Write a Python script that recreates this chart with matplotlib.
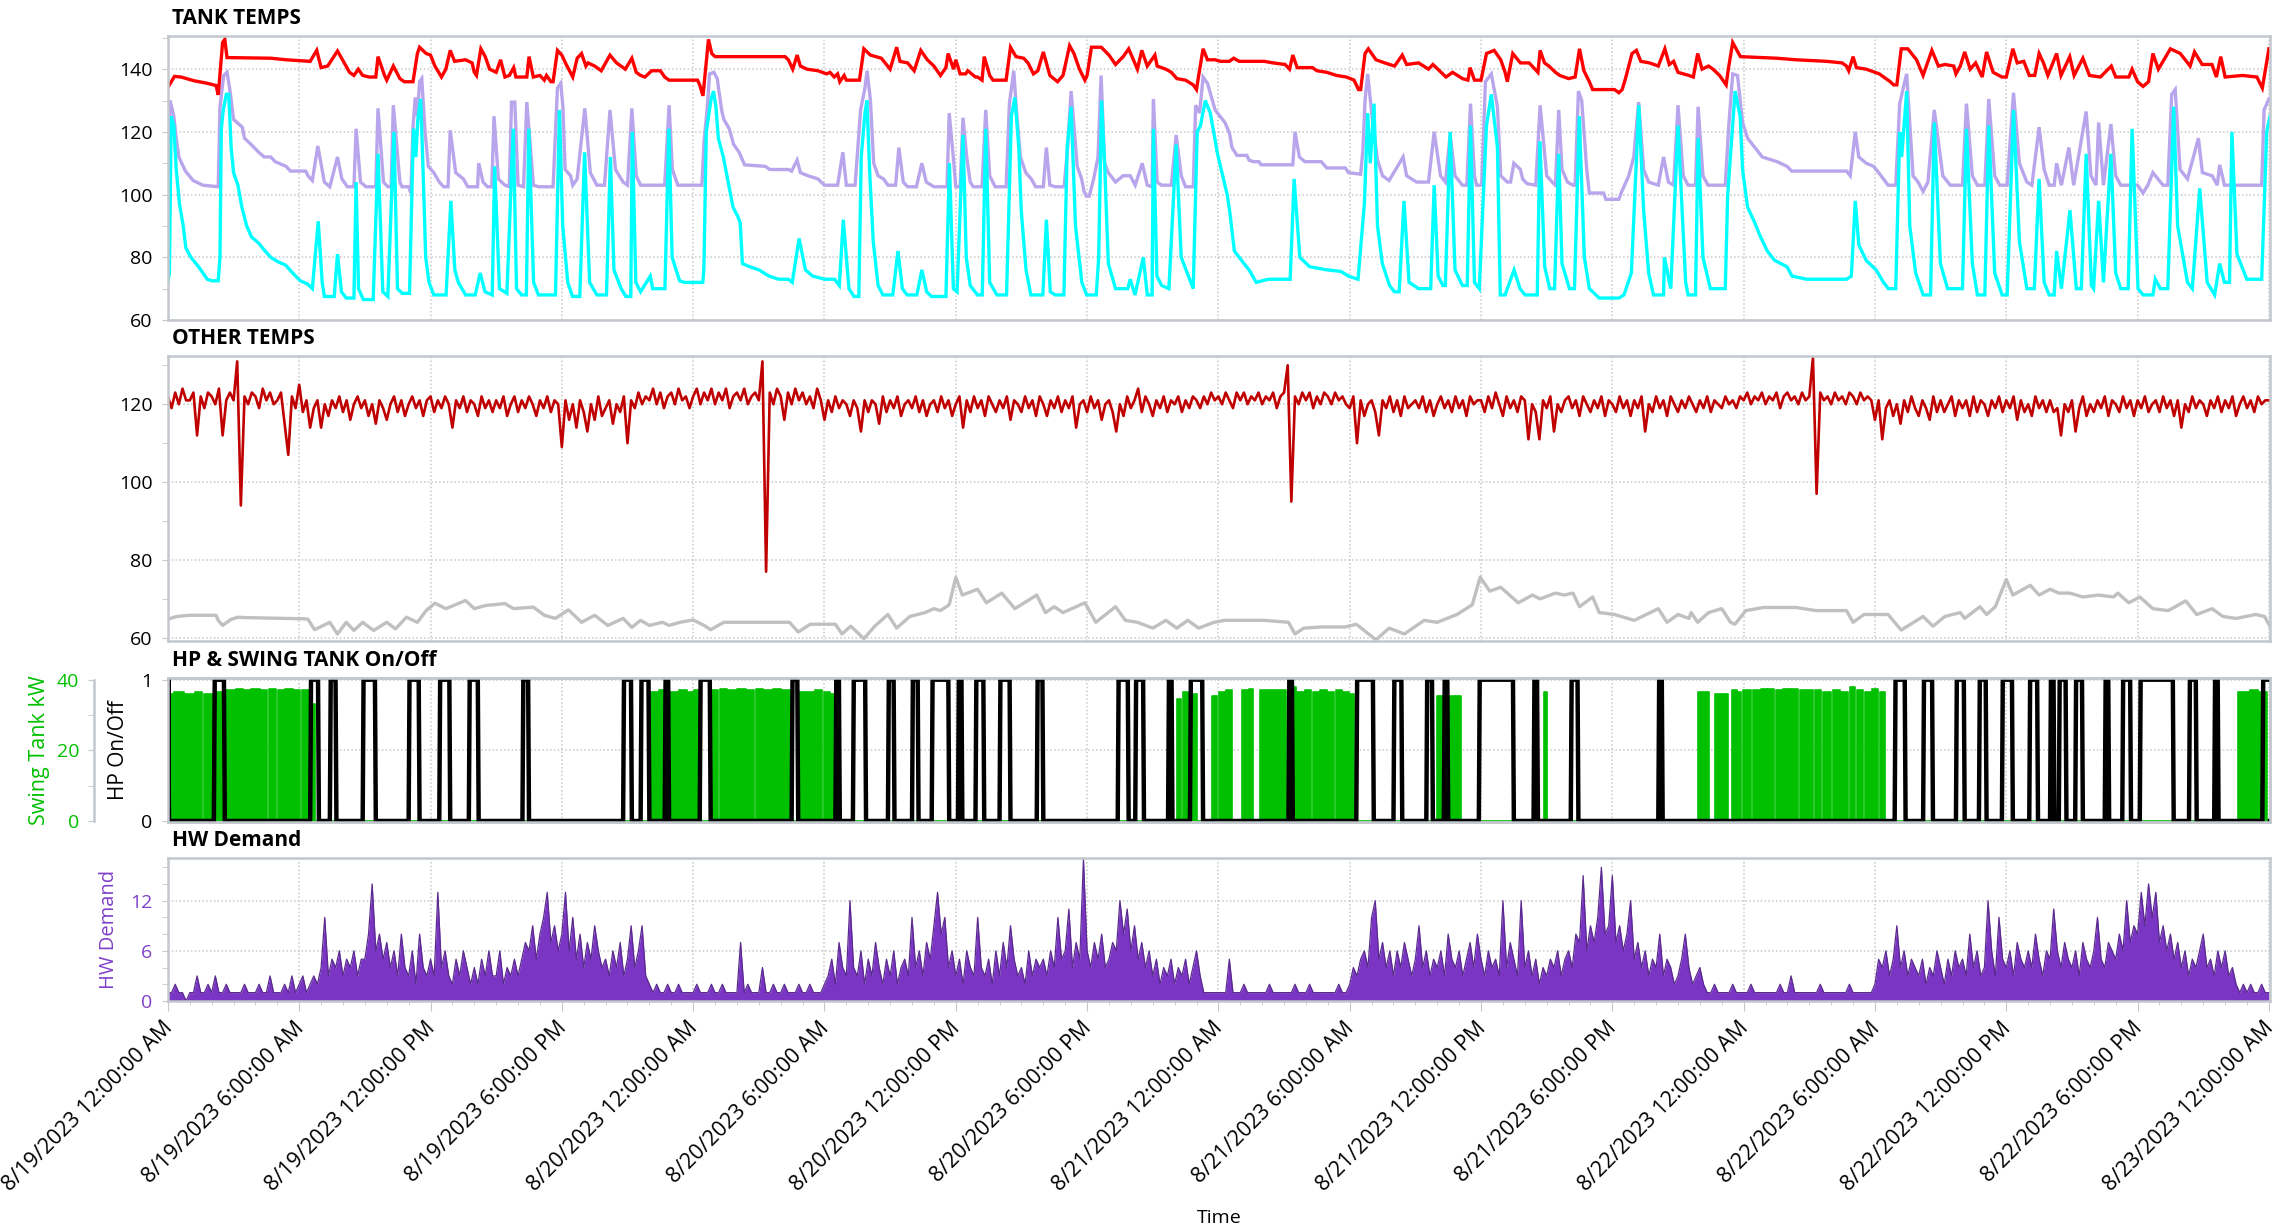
import datetime as dt

import matplotlib
matplotlib.use("Agg")
import matplotlib.pyplot as plt
import numpy as np
from matplotlib.ticker import MultipleLocator, FixedLocator
from matplotlib.transforms import ScaledTranslation

plt.rcParams["font.family"] = ["Open Sans", "DejaVu Sans"]

START = dt.datetime(2023, 8, 19)
X_END = 96.05  # hours after START

# ---- TANK TEMPS: (hours after start, degF) ----
TANK_TOP = [
    (0, 134.2), (0.3, 137.7), (0.6, 137.5), (1.2, 136.3), (1.8, 135.5), (2.2, 134.8), (2.3, 131.8),
    (2.5, 148.5), (2.6, 149.5), (2.7, 143.7), (4.7, 143.5), (5.4, 143), (6.5, 142.5), (6.8, 146),
    (7.0, 140.5), (7.3, 141), (7.75, 145.8), (8.3, 139), (8.5, 138), (8.7, 140), (8.9, 138),
    (9.2, 137.5), (9.5, 137.5), (9.6, 144), (9.9, 138), (10.0, 136.5), (10.3, 141), (10.6, 137),
    (10.8, 136), (11.2, 136), (11.4, 145), (11.5, 147), (11.8, 145), (12.0, 144.5), (12.2, 141),
    (12.5, 137.5), (12.7, 140), (12.9, 146), (13.1, 142.5), (13.6, 143), (13.9, 142), (14.0, 139),
    (14.1, 138), (14.3, 146.5), (14.5, 144), (14.7, 140), (15.0, 139), (15.2, 143), (15.4, 137.5),
    (15.6, 138), (15.8, 140.5), (15.9, 137.5), (16.4, 137.5), (16.5, 144), (16.7, 137.5), (17.0, 138),
    (17.2, 136.5), (17.3, 138), (17.5, 136), (17.6, 136), (17.8, 146), (18.0, 144.5), (18.2, 141.5),
    (18.5, 137.5), (18.7, 143.5), (18.9, 145), (19.1, 141), (19.2, 142), (19.5, 141), (19.8, 139.5),
    (20.2, 144.5), (20.5, 142), (20.9, 140), (21.2, 143.5), (21.4, 139), (21.6, 138), (21.8, 137.5),
    (22.1, 139.5), (22.5, 139.5), (22.7, 137.5), (22.9, 136.5), (24.2, 136.5), (24.3, 135),
    (24.45, 131.5), (24.7, 149.5), (24.85, 145), (25.0, 144), (28.2, 144), (28.35, 143), (28.55, 140),
    (28.75, 144.5), (28.9, 141), (29.2, 140), (29.7, 139.5), (30.1, 138.5), (30.25, 139), (30.45, 137.5),
    (30.6, 138.5), (30.7, 136), (30.9, 138), (31.0, 136.5), (31.6, 136.5), (31.8, 146.5), (32.1, 144.5),
    (32.6, 143.5), (33.0, 140), (33.3, 147), (33.45, 142.5), (33.8, 142), (34.1, 139.5), (34.4, 146),
    (34.7, 143), (35.0, 141), (35.3, 138), (35.55, 140.5), (35.65, 145), (35.9, 140), (36.0, 143),
    (36.2, 138.5), (36.45, 138.5), (36.55, 139.5), (36.9, 137.5), (37.0, 137.5), (37.2, 136.5),
    (37.3, 144), (37.55, 138), (37.7, 136.5), (38.3, 136.5), (38.5, 147), (38.75, 144), (39.1, 143.5),
    (39.3, 142), (39.55, 138.5), (39.75, 139.5), (40.0, 145.5), (40.3, 138), (40.65, 136), (40.9, 138),
    (41.2, 147.5), (41.4, 145), (41.65, 140), (41.9, 136.5), (42.0, 138), (42.2, 147), (42.65, 147),
    (43.0, 144.5), (43.3, 141.5), (43.65, 144), (43.9, 146.5), (44.3, 140), (44.5, 146), (44.75, 141),
    (45.1, 144.5), (45.2, 141), (45.6, 140), (45.85, 139), (46.1, 137), (46.5, 136.5), (46.85, 135),
    (47.0, 133.5), (47.1, 138), (47.3, 146.5), (47.5, 143), (47.85, 143), (48.1, 142.5), (48.5, 142.5),
    (48.7, 143.5), (48.95, 142.5), (50.1, 142.5), (50.5, 142), (51.05, 141.5), (51.25, 140),
    (51.4, 144.5), (51.6, 140.5), (52.3, 140.5), (52.5, 139.5), (52.95, 139), (53.4, 138),
    (53.85, 137.5), (54.2, 136.5), (54.4, 133.5), (54.5, 133.5), (54.7, 145), (54.85, 146.5),
    (55.2, 143), (55.6, 142), (56.05, 141), (56.4, 144.5), (56.6, 141.5), (57.15, 142), (57.6, 140),
    (57.8, 141.5), (58.4, 137.5), (58.7, 139), (59.15, 137), (59.4, 136.5), (59.5, 140.5), (59.7, 136.5),
    (60.0, 136.5), (60.25, 145), (60.6, 146), (60.9, 143), (61.1, 139), (61.2, 136), (61.45, 145),
    (61.8, 142), (62.2, 142), (62.6, 139), (62.7, 146), (62.9, 142), (63.1, 141), (63.4, 139),
    (63.6, 138), (64.0, 137), (64.3, 137.5), (64.5, 146.5), (64.7, 139.5), (64.95, 136), (65.1, 133.5),
    (66.1, 133.5), (66.3, 132.5), (66.45, 133.5), (66.6, 137), (66.9, 145), (67.1, 146), (67.3, 142.5),
    (67.7, 142), (68.1, 141), (68.4, 146.5), (68.6, 141.5), (68.8, 142.5), (69.0, 139), (69.5, 138),
    (69.7, 137.5), (69.9, 145), (70.1, 140), (70.4, 141), (70.6, 140), (70.9, 138), (71.2, 135),
    (71.3, 140), (71.5, 148.5), (71.85, 144), (73.5, 143.5), (74.4, 143), (75.8, 142.5), (76.5, 142),
    (76.7, 141), (76.8, 139.5), (77.0, 144), (77.15, 140.5), (77.6, 140), (78.2, 138.5), (78.5, 137),
    (78.7, 136), (78.85, 135), (79.0, 135), (79.2, 146.5), (79.5, 146.5), (79.9, 143), (80.2, 138),
    (80.6, 146), (80.9, 141), (81.2, 141.5), (81.6, 141), (81.7, 138.5), (81.9, 141), (82.1, 145.5),
    (82.35, 140), (82.6, 142), (82.9, 137.5), (83.1, 145.5), (83.4, 139), (83.8, 137.5), (84.0, 137.5),
    (84.3, 146.5), (84.5, 142), (84.8, 142.5), (85.05, 138), (85.3, 138), (85.5, 145), (85.7, 142),
    (85.9, 138), (86.3, 145), (86.5, 138), (86.9, 144), (87.1, 138), (87.5, 143.5), (87.8, 138),
    (88.3, 137.5), (88.8, 141), (89.0, 137.5), (89.6, 137.5), (89.75, 140), (90.0, 136), (90.25, 134.5),
    (90.5, 136), (90.7, 145), (90.95, 140), (91.5, 146.5), (91.95, 145), (92.4, 141), (92.6, 145.5),
    (92.95, 141.5), (93.4, 141.5), (93.6, 137.5), (93.8, 144), (94.0, 137.5), (94.8, 138),
    (95.45, 137.5), (95.7, 134), (96.0, 146.5),
]

TANK_MID = [
    (0, 102.5), (0.1, 130), (0.27, 125), (0.38, 118), (0.5, 112), (0.8, 107.5), (1.15, 104.5),
    (1.6, 103), (2.3, 102.5), (2.38, 128), (2.55, 138), (2.7, 139), (2.82, 134), (3.0, 124),
    (3.4, 121.5), (3.5, 118), (3.8, 116), (4.15, 113.5), (4.4, 112), (4.7, 112), (4.9, 110.5),
    (5.4, 109), (5.6, 107.5), (6.3, 107.5), (6.4, 106), (6.6, 104.5), (6.85, 115.5), (7.15, 104),
    (7.4, 102.5), (7.75, 112), (7.95, 105), (8.2, 102.5), (8.5, 102.5), (8.6, 121), (8.8, 104),
    (9.05, 102.5), (9.5, 102.5), (9.6, 127.5), (9.85, 104), (10.05, 102.5), (10.2, 102.5),
    (10.3, 128.5), (10.6, 104), (10.7, 102.5), (11.0, 102.5), (11.1, 100.5), (11.2, 121.5),
    (11.3, 131), (11.4, 125), (11.5, 136), (11.6, 137), (11.75, 120), (11.9, 109), (12.15, 107),
    (12.4, 104), (12.6, 102.5), (12.8, 102.5), (12.9, 120.5), (13.15, 107), (13.5, 105), (13.7, 102.5),
    (14.15, 102.5), (14.2, 110), (14.4, 104), (14.6, 102.5), (14.8, 102.5), (14.9, 125), (15.1, 105),
    (15.4, 103), (15.6, 102.5), (15.7, 129.5), (15.85, 129.5), (16.0, 103), (16.25, 102.5),
    (16.4, 129.5), (16.7, 103), (16.95, 102.5), (17.6, 102.5), (17.8, 134), (17.95, 135.5),
    (18.05, 128), (18.15, 108), (18.4, 106), (18.5, 103), (18.7, 105), (19.05, 127.5), (19.3, 107),
    (19.6, 103), (19.95, 103), (20.2, 127), (20.45, 108), (20.8, 104), (21.0, 103), (21.2, 127.5),
    (21.4, 106), (21.6, 103), (22.7, 103), (22.9, 128.5), (23.05, 108), (23.3, 103), (24.4, 103),
    (24.5, 117), (24.65, 128), (24.75, 138.5), (24.95, 139), (25.1, 137), (25.3, 127), (25.4, 124),
    (25.65, 121), (25.85, 116), (26.1, 113.5), (26.35, 109.5), (27.3, 109), (27.5, 108), (28.35, 108),
    (28.5, 107.5), (28.75, 111), (28.9, 107), (29.25, 106), (29.7, 105), (30.0, 103), (30.6, 103),
    (30.84, 113.5), (31.0, 103), (31.4, 103), (31.65, 127), (31.85, 134), (31.95, 139.5), (32.1, 130),
    (32.25, 110), (32.45, 106), (32.7, 105), (32.9, 103), (33.25, 103), (33.4, 115), (33.6, 104),
    (33.8, 102.5), (34.2, 102.5), (34.45, 110), (34.65, 104), (35.0, 102.5), (35.6, 102.5),
    (35.7, 126), (35.9, 111), (36.0, 102.5), (36.2, 102.5), (36.33, 124.5), (36.5, 112), (36.66, 104),
    (36.8, 102.5), (37.2, 102.5), (37.37, 127), (37.55, 106), (37.8, 102.5), (38.3, 102.5),
    (38.45, 129), (38.65, 139.5), (38.75, 129), (38.95, 112), (39.2, 107), (39.45, 105), (39.65, 102.5),
    (40.0, 102.5), (40.14, 115), (40.3, 103), (40.55, 102.5), (40.95, 102.5), (41.1, 114), (41.27, 133),
    (41.55, 109), (41.75, 105), (41.86, 101), (41.97, 99.5), (42.1, 99.5), (42.3, 105), (42.5, 112),
    (42.64, 138), (42.8, 110), (42.97, 107), (43.3, 104), (43.64, 106), (43.97, 106), (44.2, 103),
    (44.52, 110), (44.75, 103), (44.97, 102.5), (45.03, 130.5), (45.2, 104), (45.4, 103), (45.85, 103),
    (46.07, 119), (46.3, 106), (46.5, 102.5), (46.85, 102.5), (46.96, 128.5), (47.14, 126), (47.3, 137.5),
    (47.5, 135.5), (47.85, 127), (48.07, 125), (48.3, 123), (48.51, 119.5), (48.62, 115), (48.85, 112.5),
    (49.3, 112.5), (49.4, 111), (49.6, 110.5), (49.85, 110.5), (49.95, 109.5), (51.4, 109.5),
    (51.5, 120), (51.7, 112), (51.95, 110.5), (52.7, 110.5), (52.95, 108.5), (53.8, 108.5), (53.95, 107),
    (54.5, 106.5), (54.6, 114), (54.7, 130), (54.82, 138.5), (55.05, 123), (55.27, 111), (55.5, 106),
    (55.8, 104.5), (56.44, 112), (56.6, 106), (57.05, 104), (57.6, 104), (57.86, 120), (58.15, 106),
    (58.37, 104), (58.59, 119), (58.81, 106), (59.15, 103), (59.35, 103), (59.52, 129), (59.7, 106),
    (59.8, 103), (60.03, 103), (60.2, 136), (60.47, 138.5), (60.75, 128), (60.9, 106), (61.2, 104),
    (61.35, 104), (61.5, 110), (61.8, 108), (61.9, 105), (62.1, 103.5), (62.5, 103), (62.7, 128.5),
    (63.0, 106), (63.25, 104), (63.4, 103), (63.55, 127), (63.7, 108), (63.95, 104), (64.2, 103),
    (64.3, 103), (64.45, 133), (64.6, 130), (64.83, 108), (64.95, 100.5), (65.6, 100.5), (65.7, 98.5),
    (66.3, 98.5), (66.4, 100.5), (66.75, 106), (66.98, 112), (67.2, 129.5), (67.43, 108), (67.66, 104),
    (68.1, 103), (68.34, 112), (68.56, 104), (68.8, 103), (69.0, 128.5), (69.24, 106), (69.46, 103),
    (69.8, 103), (69.92, 128), (70.14, 106), (70.37, 103), (71.16, 103), (71.32, 122), (71.5, 138.5),
    (71.72, 138), (71.95, 123), (72.18, 118), (72.4, 116), (72.63, 114), (72.85, 112), (73.3, 111),
    (73.53, 110.5), (73.98, 109), (74.2, 107.5), (76.7, 107.5), (76.87, 106), (77.1, 120), (77.26, 112),
    (77.6, 110), (77.94, 109), (78.28, 106), (78.6, 103), (78.95, 103), (79.13, 129), (79.36, 136),
    (79.45, 138.5), (79.74, 106), (79.97, 104), (80.2, 101), (80.42, 104), (80.71, 127), (81.1, 106),
    (81.44, 103), (82.0, 103), (82.18, 129), (82.45, 106), (82.68, 103), (83.02, 103), (83.2, 130.5),
    (83.47, 106), (83.7, 103), (84.04, 103), (84.33, 132.5), (84.6, 110), (84.94, 104), (85.17, 103),
    (85.5, 121.5), (85.73, 108), (85.96, 103), (86.19, 103), (86.3, 110), (86.52, 103), (86.86, 115),
    (87.08, 103), (87.65, 126.5), (87.87, 106), (88.1, 103), (88.22, 123), (88.44, 103), (88.78, 122.5),
    (89.0, 106), (89.23, 103), (90.0, 103), (90.25, 100.5), (90.47, 103), (90.7, 107), (90.93, 105),
    (91.16, 103), (91.38, 103), (91.56, 132), (91.72, 133.5), (91.94, 108), (92.28, 105), (92.78, 118),
    (92.96, 107), (93.41, 106), (93.64, 103), (93.75, 109.5), (93.97, 103), (95.67, 103), (95.78, 127),
    (96.0, 130.5),
]

TANK_BOTTOM = [
    (0, 72), (0.07, 75), (0.15, 125), (0.27, 122), (0.38, 108), (0.53, 97), (0.7, 90), (0.82, 83),
    (1.05, 80), (1.4, 77), (1.6, 75), (1.8, 73), (2.0, 72.5), (2.3, 72.5), (2.38, 80), (2.44, 121),
    (2.53, 127), (2.67, 132), (2.78, 132), (2.89, 115), (3.0, 107), (3.2, 103), (3.38, 96), (3.6, 90),
    (3.82, 86.5), (4.15, 84.5), (4.38, 82.5), (4.7, 80), (5.05, 78.5), (5.38, 77.5), (5.7, 75),
    (6.05, 72.5), (6.38, 71.5), (6.6, 70), (6.87, 91.5), (7.05, 72), (7.15, 67.5), (7.6, 67.5),
    (7.75, 81), (7.93, 69), (8.15, 67), (8.5, 67), (8.6, 104), (8.71, 70), (8.93, 66.5), (9.38, 66.5),
    (9.6, 113), (9.82, 69), (10.05, 67.5), (10.33, 120), (10.49, 70), (10.71, 68.5), (11.04, 68.5),
    (11.22, 121), (11.33, 112), (11.42, 124), (11.55, 130.5), (11.64, 112), (11.78, 80), (11.93, 72),
    (12.15, 68), (12.71, 68), (12.93, 98), (13.11, 76), (13.27, 72), (13.6, 68), (14.04, 68),
    (14.27, 75), (14.49, 69), (14.82, 68), (14.93, 109), (15.15, 70), (15.49, 68.5), (15.78, 121),
    (15.93, 70), (16.16, 68), (16.38, 68), (16.49, 121), (16.71, 72), (16.93, 68), (17.71, 68),
    (17.89, 127), (18.04, 90), (18.27, 72), (18.49, 67.5), (18.82, 67.5), (19.04, 113.5), (19.27, 72),
    (19.6, 68), (20.04, 68), (20.22, 112), (20.38, 76), (20.71, 70), (20.93, 67.5), (21.15, 67.5),
    (21.22, 120), (21.38, 72), (21.6, 69), (22.04, 74), (22.15, 70), (22.71, 70), (22.89, 121),
    (23.04, 80), (23.38, 72.5), (23.6, 72), (24.44, 72), (24.49, 76), (24.6, 120), (24.82, 130.5),
    (24.93, 133), (25.04, 128), (25.15, 118), (25.38, 112), (25.6, 104), (25.82, 96), (26.04, 93),
    (26.15, 91), (26.25, 78), (26.58, 77), (27.0, 76), (27.47, 74), (27.91, 73), (28.35, 73),
    (28.53, 72), (28.84, 86), (29.13, 76), (29.46, 74), (30.02, 73), (30.46, 73), (30.68, 71),
    (30.86, 92), (31.12, 70), (31.35, 67.5), (31.57, 67.5), (31.68, 112), (31.85, 126), (31.94, 130),
    (32.08, 105), (32.23, 85), (32.45, 71), (32.67, 68), (33.12, 68), (33.36, 82), (33.56, 70),
    (33.78, 68), (34.22, 68), (34.45, 76), (34.67, 69), (34.89, 67.5), (35.55, 67.5), (35.71, 110),
    (35.89, 70), (36.06, 69), (36.33, 119), (36.48, 80), (36.66, 71), (36.99, 68), (37.21, 68),
    (37.37, 121), (37.55, 72), (37.88, 68), (38.32, 68), (38.54, 125), (38.7, 131), (38.88, 115),
    (38.99, 95), (39.21, 76), (39.43, 68), (39.98, 68), (40.14, 92), (40.32, 69), (40.54, 68),
    (40.94, 68), (41.09, 115), (41.27, 128), (41.47, 90), (41.76, 72), (41.98, 68), (42.42, 68),
    (42.53, 80), (42.66, 130), (42.8, 110), (42.97, 78), (43.3, 70), (43.86, 70), (43.97, 73),
    (44.19, 68), (44.57, 80), (44.75, 68), (44.97, 68), (45.03, 121), (45.19, 74), (45.41, 71),
    (45.74, 70), (46.07, 116), (46.3, 80), (46.63, 74), (46.85, 70), (47.03, 120), (47.18, 122),
    (47.4, 130), (47.63, 126), (47.96, 113), (48.4, 100), (48.51, 95), (48.73, 82), (49.17, 78),
    (49.4, 76), (49.73, 72), (50.28, 73), (51.28, 73), (51.46, 105), (51.72, 80), (52.17, 77),
    (52.94, 76), (53.6, 75.5), (53.94, 74), (54.38, 73), (54.67, 97), (54.82, 126), (54.94, 110),
    (55.11, 129), (55.27, 90), (55.49, 78), (55.82, 71), (56.04, 69), (56.26, 69), (56.48, 98),
    (56.71, 72), (57.15, 70), (57.7, 70), (57.86, 103), (58.04, 74), (58.26, 71), (58.37, 71),
    (58.59, 120), (58.81, 76), (59.15, 71), (59.37, 71), (59.52, 122), (59.7, 72), (59.92, 70),
    (60.25, 122), (60.47, 132), (60.75, 115), (60.88, 68), (61.1, 68), (61.51, 76), (61.78, 70),
    (62.01, 68), (62.57, 68), (62.69, 117), (62.91, 77), (63.14, 70), (63.36, 70), (63.55, 113),
    (63.7, 78), (64.04, 70), (64.27, 70), (64.49, 125), (64.72, 80), (64.95, 70), (65.4, 67),
    (66.3, 67), (66.53, 68), (66.87, 75), (67.21, 128.5), (67.43, 95), (67.66, 75), (67.88, 68),
    (68.34, 68), (68.38, 80), (68.67, 70), (69.0, 122), (69.35, 72), (69.46, 68), (69.8, 68),
    (69.92, 118), (70.14, 80), (70.48, 70), (71.16, 70), (71.27, 100), (71.61, 133), (71.84, 125),
    (71.95, 108), (72.18, 96), (72.51, 91), (72.74, 87), (73.08, 82), (73.42, 79), (73.98, 77),
    (74.21, 74), (74.89, 73), (76.7, 73), (76.92, 74), (77.1, 98), (77.26, 84), (77.6, 79),
    (78.05, 76), (78.39, 72), (78.61, 70), (78.95, 70), (79.13, 120), (79.22, 112), (79.45, 133),
    (79.59, 90), (79.86, 75), (80.2, 68), (80.54, 68), (80.71, 123), (80.99, 78), (81.32, 70),
    (82.0, 70), (82.18, 121), (82.45, 78), (82.68, 68), (83.02, 68), (83.2, 122), (83.47, 75),
    (83.81, 68), (84.04, 68), (84.33, 127), (84.6, 85), (84.94, 70), (85.28, 70), (85.5, 105),
    (85.73, 72), (85.96, 68), (86.19, 68), (86.3, 82), (86.52, 70), (86.91, 95), (87.2, 70),
    (87.43, 70), (87.65, 113), (87.89, 71), (87.99, 70), (88.22, 98), (88.44, 72), (88.78, 113),
    (89.0, 75), (89.23, 70), (89.57, 70), (89.75, 121), (90.02, 70), (90.25, 68), (90.7, 68),
    (90.81, 73), (91.04, 70), (91.38, 70), (91.65, 128), (91.83, 90), (92.28, 72), (92.5, 70),
    (92.84, 102), (93.18, 72), (93.52, 68), (93.75, 78), (93.97, 72), (94.2, 72), (94.31, 120),
    (94.54, 81), (94.99, 73), (95.67, 73), (95.9, 120), (96.05, 125),
]

# ---- OTHER TEMPS ----
# recirculation temp, 10-minute samples from 8/19 12:00 AM
RECIRC_TEMP = [
    122, 119, 123, 120, 124, 121, 121, 123, 112, 122, 119, 123, 122, 120, 124, 112, 121, 123,
    121, 131, 94, 122, 120, 123, 122, 119, 124, 121, 123, 120, 121, 123, 115, 107, 122, 119,
    125, 118, 121, 114, 119, 121, 114, 120, 117, 121, 119, 122, 118, 121, 116, 120, 122, 119,
    121, 117, 120, 115, 121, 119, 116, 120, 122, 118, 121, 117, 120, 122, 119, 121, 117, 121,
    122, 118, 121, 119, 122, 120, 114, 121, 119, 122, 118, 121, 120, 117, 122, 119, 121, 118,
    121, 119, 122, 117, 120, 122, 118, 121, 119, 122, 120, 117, 121, 119, 122, 118, 121, 120,
    109, 121, 116, 120, 114, 121, 118, 113, 120, 116, 122, 117, 119, 121, 115, 120, 118, 122,
    110, 121, 119, 123, 120, 122, 121, 124, 120, 123, 119, 122, 123, 120, 124, 121, 122, 119,
    122, 124, 120, 123, 121, 124, 120, 123, 121, 124, 119, 122, 123, 121, 124, 120, 122, 123,
    121, 131, 77, 123, 120, 124, 122, 116, 123, 120, 124, 121, 123, 120, 122, 119, 124, 121,
    116, 121, 118, 122, 119, 121, 120, 117, 121, 119, 113, 121, 118, 121, 120, 115, 122, 118,
    121, 119, 122, 117, 120, 121, 119, 122, 118, 121, 117, 120, 121, 118, 122, 119, 121, 117,
    120, 122, 114, 121, 118, 122, 119, 121, 117, 122, 120, 118, 121, 119, 122, 116, 121, 120,
    118, 122, 119, 121, 117, 122, 120, 117, 121, 119, 122, 118, 121, 119, 122, 114, 120, 121,
    118, 122, 119, 121, 116, 120, 121, 118, 113, 120, 117, 122, 119, 121, 124, 118, 122, 120,
    117, 121, 119, 122, 118, 121, 120, 122, 118, 121, 119, 122, 121, 119, 122, 120, 123, 121,
    122, 120, 123, 121, 119, 123, 121, 123, 120, 122, 121, 123, 120, 122, 121, 123, 119, 122,
    123, 130, 95, 122, 120, 123, 121, 123, 119, 122, 120, 123, 122, 120, 123, 121, 122, 120,
    119, 122, 110, 121, 117, 120, 121, 118, 112, 121, 119, 122, 118, 121, 117, 122, 119, 120,
    121, 119, 122, 118, 121, 117, 120, 122, 119, 121, 118, 122, 119, 121, 117, 122, 120, 121,
    121, 118, 122, 119, 123, 120, 117, 122, 119, 121, 118, 122, 121, 111, 120, 118, 111, 121,
    119, 122, 113, 120, 118, 121, 122, 119, 121, 117, 122, 120, 118, 121, 119, 122, 117, 121,
    120, 118, 122, 119, 121, 117, 121, 119, 122, 113, 120, 118, 122, 119, 121, 117, 122, 120,
    118, 121, 119, 122, 120, 118, 121, 119, 122, 118, 121, 120, 119, 122, 120, 121, 119, 122,
    121, 123, 120, 122, 121, 123, 120, 122, 121, 123, 119, 122, 123, 121, 122, 120, 123, 121,
    122, 132, 97, 123, 121, 122, 120, 123, 121, 122, 120, 123, 122, 120, 123, 121, 122, 121,
    116, 121, 111, 119, 121, 117, 120, 115, 121, 118, 122, 119, 117, 121, 119, 116, 122, 118,
    121, 118, 120, 122, 117, 121, 119, 121, 117, 122, 118, 121, 120, 117, 121, 119, 122, 118,
    121, 119, 122, 116, 121, 118, 120, 117, 122, 119, 121, 118, 121, 118, 119, 112, 120, 118,
    121, 113, 119, 122, 117, 120, 118, 121, 119, 122, 117, 121, 120, 118, 122, 119, 121, 117,
    121, 119, 122, 118, 120, 121, 118, 122, 119, 121, 117, 121, 114, 120, 118, 122, 119, 121,
    120, 117, 121, 119, 122, 118, 121, 119, 122, 117, 120, 122, 119, 121, 118, 122, 120, 121,
    121,
]

# ambient temp: (hours after start, degF)
AMBIENT_TEMP = [
    (0, 64.8), (0.4, 65.5), (1.0, 65.8), (2.2, 65.8), (2.3, 64.5), (2.5, 63.2), (2.9, 64.8),
    (3.2, 65.3), (3.6, 65.2), (6.2, 64.9), (6.4, 64.8), (6.7, 62.1), (7.4, 64), (7.75, 61),
    (8.15, 64), (8.5, 61.9), (8.9, 64), (9.4, 61.9), (10.0, 64), (10.4, 62.3), (10.9, 65.3),
    (11.4, 64), (11.8, 67), (12.2, 68.9), (12.7, 67.5), (13.6, 69.6), (14.0, 67.5), (14.5, 68.3),
    (15.4, 68.8), (15.8, 67.5), (16.7, 67.9), (17.2, 65.8), (17.7, 65), (18.3, 67.2), (18.9, 64),
    (19.5, 65.8), (20.1, 63.2), (20.8, 65), (21.2, 62.7), (21.6, 64.5), (22.0, 63.2), (22.6, 64),
    (22.9, 63.2), (23.4, 64), (24.0, 64.6), (24.5, 63.2), (24.8, 62.1), (25.4, 64), (28.4, 64),
    (28.8, 61.5), (29.35, 63.5), (30.5, 63.5), (30.8, 61), (31.2, 63), (31.8, 59.8), (32.3, 63),
    (32.9, 66), (33.3, 62.5), (33.9, 65.5), (34.6, 66.5), (35.0, 67.5), (35.3, 67), (35.7, 68.5),
    (36.0, 75.5), (36.3, 71), (37.0, 72.5), (37.4, 69), (38.1, 71.5), (38.7, 67.5), (39.7, 71),
    (40.1, 66.5), (40.5, 68), (40.9, 66.5), (41.9, 69), (42.4, 64), (43.3, 68), (43.75, 64.5),
    (44.3, 64), (45.0, 62.5), (45.6, 64.5), (46.1, 62.5), (46.6, 64.5), (47.1, 62.5), (47.8, 64),
    (48.3, 64.5), (50.1, 64.5), (51.2, 64), (51.5, 61), (51.9, 62.5), (52.7, 62.8), (53.8, 62.8),
    (54.3, 63.5), (55.2, 59.5), (55.8, 62.5), (56.5, 61), (57.4, 64.5), (58.0, 64), (58.9, 66),
    (59.6, 68.5), (59.96, 75.6), (60.4, 72), (60.9, 73), (61.7, 69), (62.35, 71), (62.7, 70),
    (63.4, 71.5), (63.8, 71), (64.2, 71.5), (64.5, 68), (65.1, 70.5), (65.4, 66.5), (66.1, 66),
    (67.0, 64.5), (68.1, 67.5), (68.5, 64), (69.0, 66), (69.5, 65), (69.6, 66.5), (69.9, 64),
    (70.4, 66.5), (71.0, 67.5), (71.4, 64), (71.6, 63.5), (72.1, 67), (72.9, 67.8), (74.4, 67.8),
    (75.3, 67), (76.7, 67), (77.0, 64), (77.5, 66), (78.6, 66), (79.2, 62), (80.2, 65.5),
    (80.65, 63), (81.2, 65.5), (81.9, 66.5), (82.1, 65), (82.8, 68), (83.1, 66), (83.5, 68),
    (84.0, 75), (84.3, 71), (85.1, 73.5), (85.5, 71), (86.0, 72.5), (86.4, 71.5), (86.9, 71.5),
    (87.5, 70.5), (88.2, 71), (88.9, 70.5), (89.1, 71.5), (89.6, 69), (90.1, 70.5), (90.7, 67.5),
    (91.4, 67), (92.2, 69.5), (92.7, 66), (93.4, 67.5), (93.9, 65.5), (94.5, 65), (95.4, 66),
    (95.8, 65.5), (96.05, 63),
]

# ---- HP & SWING TANK ----
# heat pump on periods (start hour, end hour)
HP_ON = [
    (0, 0.05), (2.1, 2.6), (6.5, 6.9), (7.4, 7.7), (8.9, 9.5), (11.0, 11.5), (12.4, 12.9),
    (13.75, 14.2), (16.2, 16.5), (20.8, 21.2), (21.6, 22.0), (22.7, 22.9), (24.3, 24.8),
    (28.5, 28.8), (30.5, 30.7), (31.3, 31.9), (32.9, 33.2), (34.0, 34.3), (34.9, 35.7),
    (36.1, 36.3), (36.9, 37.3), (38.0, 38.5), (39.7, 40.0), (43.4, 43.9), (44.2, 44.6),
    (45.7, 45.9), (46.7, 47.3), (51.2, 51.4), (54.3, 55.1), (56.0, 56.4), (57.5, 57.8),
    (58.3, 58.5), (59.9, 61.5), (62.4, 62.6), (64.1, 64.45), (68.1, 68.3), (78.9, 79.4),
    (80.2, 80.65), (81.7, 82.1), (82.75, 83.1), (83.8, 84.3), (85.05, 85.45), (86.0, 86.2),
    (86.4, 86.75), (87.15, 87.5), (88.5, 88.7), (89.3, 89.7), (90.1, 91.65), (92.35, 92.7),
    (93.5, 93.7), (95.7, 96.2),
]

# swing tank element cycles (start hour, end hour, kW)
SWING_KW = [
    (0.10, 0.25, 36), (0.30, 0.72, 36.5), (0.78, 1.17, 36), (1.23, 1.58, 36.5), (1.64, 2.05, 36),
    (2.20, 2.45, 36.5), (2.52, 2.66, 37), (2.72, 3.05, 37), (3.11, 3.42, 37.5), (3.48, 3.75, 37),
    (3.81, 4.20, 37.5), (4.26, 4.55, 37), (4.61, 4.95, 37.5), (5.01, 5.30, 37), (5.36, 5.70, 37.5),
    (5.76, 6.05, 37), (6.11, 6.45, 37), (6.50, 6.70, 33),
    (22.0, 22.4, 36.5), (22.46, 22.85, 37), (22.92, 23.3, 36.5), (23.36, 23.7, 37), (23.76, 24.0, 36.5),
    (24.06, 24.3, 37), (24.8, 25.15, 37), (25.21, 25.55, 37.5), (25.61, 25.95, 37), (26.01, 26.4, 37.5),
    (26.46, 26.8, 37), (26.86, 27.2, 37.5), (27.26, 27.6, 37), (27.66, 28.0, 37.5), (28.06, 28.5, 37),
    (28.8, 29.1, 36.5), (29.16, 29.5, 36.5), (29.56, 29.9, 37), (29.96, 30.25, 36.5), (30.31, 30.55, 36),
    (30.58, 30.7, 35),
    (46.1, 46.3, 34.5), (46.36, 46.6, 36.5), (46.66, 47.0, 36), (47.7, 47.95, 35.5), (48.01, 48.3, 36.5),
    (48.36, 48.6, 37), (49.1, 49.35, 37), (49.4, 49.6, 37.5), (49.9, 50.2, 37), (50.26, 50.6, 37),
    (50.65, 51.1, 37), (51.3, 51.55, 38), (51.61, 51.9, 36.5), (51.96, 52.25, 37), (52.31, 52.6, 36.5),
    (52.66, 52.95, 37), (53.01, 53.3, 36.5), (53.36, 53.65, 37), (53.71, 53.95, 36.5), (54.01, 54.2, 36),
    (58.0, 58.4, 35.5), (58.55, 58.8, 35.5), (58.86, 59.1, 35.5), (62.9, 63.0, 36.5),
    (69.9, 70.15, 36.5), (70.2, 70.4, 36.5), (70.7, 71.0, 36), (71.05, 71.3, 36), (71.45, 71.7, 37),
    (71.76, 71.9, 36.5), (71.98, 72.35, 37), (72.45, 72.75, 37), (72.81, 73.05, 37.5), (73.1, 73.4, 37.5),
    (73.46, 73.75, 37), (73.81, 74.1, 37.5), (74.16, 74.5, 37.5), (74.56, 74.9, 37), (74.95, 75.15, 37),
    (75.25, 75.55, 37), (75.61, 76.0, 36.5), (76.1, 76.4, 37), (76.46, 76.75, 36.5), (76.85, 77.1, 38),
    (77.16, 77.45, 37), (77.55, 77.8, 36.5), (77.86, 78.15, 37.5), (78.21, 78.45, 36.5),
    (94.6, 94.85, 36.5), (94.91, 95.1, 36.5), (95.15, 95.5, 37), (95.56, 95.9, 36.5),
]

# ---- HW Demand, 10-minute samples ----
HW_DEMAND = [
    1, 1, 2, 1, 1, 0, 1, 1, 3, 1, 1, 2, 1, 3, 1, 1, 2, 1,
    1, 1, 1, 2, 1, 1, 1, 2, 1, 1, 3, 1, 1, 1, 2, 1, 3, 1,
    2, 3, 1, 2, 3, 2, 4, 10, 3, 5, 4, 6, 3, 5, 4, 6, 3, 5,
    5, 8, 14, 6, 8, 5, 7, 4, 6, 3, 8, 4, 3, 6, 2, 8, 4, 3,
    5, 3, 13, 4, 6, 3, 2, 5, 3, 6, 4, 2, 4, 2, 5, 3, 6, 3,
    3, 6, 2, 4, 3, 5, 3, 5, 7, 6, 9, 5, 8, 10, 13, 7, 9, 6,
    8, 13, 6, 10, 5, 8, 4, 7, 5, 9, 6, 4, 5, 3, 6, 4, 7, 3,
    5, 9, 4, 6, 9, 3, 2, 1, 2, 1, 1, 2, 1, 1, 2, 1, 1, 1,
    1, 2, 1, 1, 1, 2, 1, 1, 2, 1, 1, 1, 1, 7, 1, 2, 1, 1,
    1, 4, 1, 1, 2, 1, 1, 2, 1, 1, 1, 2, 1, 1, 2, 1, 1, 1,
    2, 3, 5, 2, 7, 4, 3, 12, 4, 3, 6, 2, 5, 3, 7, 4, 2, 5,
    3, 6, 2, 4, 5, 3, 10, 4, 6, 3, 7, 5, 9, 13, 8, 10, 4, 6,
    3, 5, 2, 6, 4, 3, 10, 4, 3, 5, 2, 6, 3, 7, 4, 9, 5, 3,
    4, 2, 6, 3, 5, 4, 5, 3, 6, 4, 10, 5, 6, 11, 4, 7, 5, 17,
    6, 4, 7, 5, 8, 4, 5, 7, 6, 12, 8, 11, 6, 9, 5, 7, 4, 6,
    3, 5, 2, 4, 3, 5, 2, 4, 3, 5, 2, 4, 6, 3, 1, 1, 1, 1,
    1, 1, 1, 5, 1, 1, 1, 2, 1, 1, 1, 1, 1, 1, 2, 1, 1, 1,
    1, 1, 1, 2, 1, 1, 1, 2, 1, 1, 1, 1, 1, 1, 1, 2, 1, 1,
    2, 4, 3, 5, 6, 4, 10, 12, 5, 7, 4, 6, 3, 6, 4, 7, 5, 3,
    5, 9, 4, 6, 3, 5, 4, 6, 3, 8, 5, 4, 6, 3, 5, 7, 4, 8,
    5, 3, 6, 4, 5, 3, 12, 4, 7, 5, 3, 12, 4, 6, 3, 5, 2, 4,
    3, 5, 4, 6, 3, 5, 6, 4, 8, 7, 15, 6, 9, 7, 10, 16, 8, 9,
    15, 7, 9, 6, 8, 12, 5, 7, 4, 6, 3, 5, 4, 8, 3, 5, 4, 2,
    3, 5, 8, 4, 2, 3, 4, 2, 1, 1, 2, 1, 1, 1, 1, 2, 1, 1,
    1, 1, 2, 1, 1, 1, 1, 1, 1, 1, 2, 1, 1, 3, 1, 1, 1, 1,
    1, 1, 1, 2, 1, 1, 1, 1, 1, 1, 1, 2, 1, 1, 1, 1, 1, 1,
    2, 5, 4, 6, 3, 5, 9, 4, 6, 3, 5, 4, 3, 5, 2, 4, 3, 6,
    4, 2, 5, 3, 6, 4, 5, 3, 8, 4, 6, 3, 4, 12, 6, 3, 10, 5,
    4, 6, 3, 7, 5, 4, 6, 4, 8, 5, 3, 6, 5, 11, 6, 4, 7, 5,
    4, 6, 3, 7, 5, 4, 6, 10, 5, 4, 7, 6, 5, 8, 6, 12, 7, 9,
    8, 13, 9, 14, 10, 13, 7, 9, 6, 8, 5, 7, 4, 6, 3, 5, 4, 6,
    8, 4, 5, 3, 6, 4, 6, 3, 4, 2, 1, 2, 1, 2, 1, 1, 2, 1,
    1,
]

SPINE = "#C3C8CE"
GRID = "#C8C8C8"
PURPLE = "#7A35C4"


def split(pairs):
    arr = np.array(pairs, dtype=float)
    return arr[:, 0], arr[:, 1]


def blocks_to_line(blocks, ramp=0.0, end=X_END):
    t, v = [0.0], [0.0]
    for b in blocks:
        s, e = b[0], b[1]
        lvl = b[2] if len(b) > 2 else 1.0
        t += [s, s + ramp, e - ramp, e]
        v += [0.0, lvl, lvl, 0.0]
    t.append(end)
    v.append(0.0)
    return np.array(t), np.array(v)


def stamp(h):
    d = START + dt.timedelta(hours=float(h))
    hr = d.hour % 12 or 12
    ampm = "AM" if d.hour < 12 else "PM"
    return f"{d.month}/{d.day}/{d.year} {hr}:{d.minute:02d}:00 {ampm}"


def style_axes(ax, title):
    ax.set_xlim(0, X_END)
    for s in ax.spines.values():
        s.set_color(SPINE)
        s.set_linewidth(1.8)
    ax.grid(True, which="major", color=GRID, linestyle=(0, (1, 1.5)), linewidth=1.1)
    ax.tick_params(axis="y", which="both", colors=SPINE, labelcolor="black",
                   labelsize=14, length=4, pad=7)
    ax.tick_params(axis="x", which="both", bottom=False, labelbottom=False)
    ax.set_axisbelow(True)
    ax.annotate(title, xy=(0, 1), xycoords="axes fraction", xytext=(4, 7),
                textcoords="offset pixels", fontsize=15, fontweight="bold",
                va="bottom", ha="left")


fig = plt.figure(figsize=(22.75, 12.27), dpi=100)
L, W = 0.0738, 0.924
ax1 = fig.add_axes([L, 0.7392, W, 0.2315])
ax2 = fig.add_axes([L, 0.4776, W, 0.2323], sharex=ax1)
ax3 = fig.add_axes([L, 0.3301, W, 0.1174], sharex=ax1)
ax4 = fig.add_axes([L, 0.1842, W, 0.1165], sharex=ax1)

ticks = np.arange(0, 97, 6)
ax4.set_xticks(ticks)
ax4.xaxis.set_minor_locator(MultipleLocator(1))

# TANK TEMPS
style_axes(ax1, "TANK TEMPS")
for series, color in ((TANK_MID, "#B8A5EC"), (TANK_BOTTOM, "#00FFFF"), (TANK_TOP, "#FF0000")):
    t, v = split(series)
    ax1.plot(t, v, color=color, linewidth=2.4, solid_joinstyle="miter")
ax1.set_ylim(60, 150.6)
ax1.yaxis.set_major_locator(MultipleLocator(20))
ax1.yaxis.set_minor_locator(MultipleLocator(10))

# OTHER TEMPS
style_axes(ax2, "OTHER TEMPS")
t10 = np.arange(len(RECIRC_TEMP)) / 6.0
ax2.plot(t10, RECIRC_TEMP, color="#C00000", linewidth=1.9)
t, v = split(AMBIENT_TEMP)
ax2.plot(t, v, color="#C0C0C0", linewidth=2.4)
ax2.set_ylim(59.2, 132.4)
ax2.yaxis.set_major_locator(MultipleLocator(20))
ax2.yaxis.set_minor_locator(MultipleLocator(10))

# HP & SWING TANK On/Off (green kW axis offset to the left, HP axis on top)
style_axes(ax3, "HP & SWING TANK On/Off")
tg, vg = blocks_to_line(SWING_KW)
ax3.fill_between(tg, 0, vg, color="#00C000", linewidth=0)
ax3.plot(tg, vg, color="#00C000", linewidth=1.2)
ax3.set_ylim(-0.28, 40.5)
ax3.yaxis.set_major_locator(MultipleLocator(20))
ax3.yaxis.set_minor_locator(MultipleLocator(10))
ax3.spines["left"].set_position(("outward", 53))
ax3.spines["left"].set_bounds(0, 40)
ax3.tick_params(axis="y", which="both", labelcolor="#00C000")
ax3.set_ylabel("Swing Tank kW", color="#00C000", fontsize=15.5, labelpad=5)

ax3b = ax3.twinx()
ax3b.yaxis.tick_left()
ax3b.yaxis.set_label_position("left")
for s in ax3b.spines.values():
    s.set_color(SPINE)
    s.set_linewidth(1.8)
th, vh = blocks_to_line(HP_ON, ramp=0.04)
ax3b.plot(th, vh, color="black", linewidth=3.2)
ax3b.set_ylim(-0.007, 1.0125)
ax3b.yaxis.set_major_locator(FixedLocator([0, 1]))
ax3b.tick_params(axis="y", colors=SPINE, labelcolor="black", labelsize=14, length=4, pad=7)
ax3b.tick_params(axis="x", which="both", bottom=False, labelbottom=False)
ax3b.set_ylabel("HP On/Off", fontsize=15, labelpad=9)

# HW Demand
style_axes(ax4, "HW Demand")
t10 = np.arange(len(HW_DEMAND)) / 6.0
ax4.fill_between(t10, 0, HW_DEMAND, color=PURPLE, linewidth=0)
ax4.plot(t10, HW_DEMAND, color="#5A2A8E", linewidth=0.9)
ax4.set_ylim(0, 17.1)
ax4.yaxis.set_major_locator(MultipleLocator(6))
ax4.yaxis.set_minor_locator(MultipleLocator(2))
ax4.tick_params(axis="y", which="both", labelcolor="#8040C8")
ax4.set_ylabel("HW Demand", color="#8040C8", fontsize=14.5, labelpad=8)

ax4.tick_params(axis="x", which="both", bottom=True, labelbottom=True, colors=SPINE,
                labelcolor="black", labelsize=15.5, pad=5)
ax4.tick_params(axis="x", which="major", length=7)
ax4.tick_params(axis="x", which="minor", length=3)
ax4.set_xticklabels([stamp(h) for h in ticks], rotation=45, ha="right",
                    rotation_mode="anchor")
nudge = ScaledTranslation(-0.06, 0, fig.dpi_scale_trans)
for lbl in ax4.get_xticklabels():
    lbl.set_transform(lbl.get_transform() + nudge)
ax4.set_xlabel("Time", fontsize=14, labelpad=9)
ax4.set_xlim(0, X_END)

fig.savefig("out.png", dpi=100)
